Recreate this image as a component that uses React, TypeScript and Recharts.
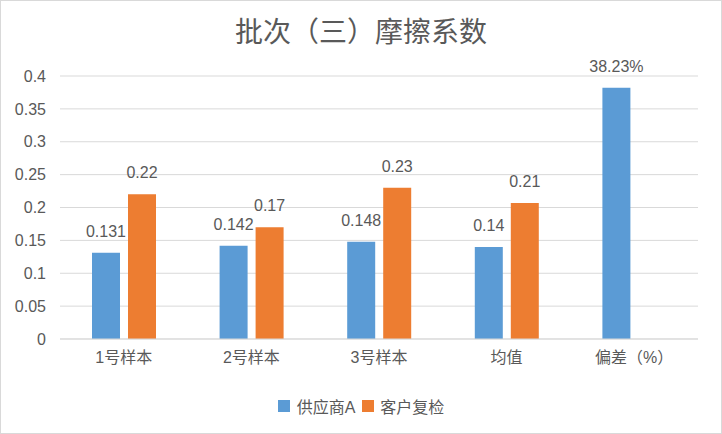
import React from "react";
import { BarChart, Bar, XAxis, YAxis, CartesianGrid, LabelList } from "recharts";

const categories = ["1号样本", "2号样本", "3号样本", "均值", "偏差（%）"];
const supplierValues = [0.131, 0.142, 0.148, 0.14, 0.3823];
const supplierLabels = ["0.131", "0.142", "0.148", "0.14", "38.23%"];
const clientValues: (number | null)[] = [0.22, 0.17, 0.23, 0.207, null];
const clientLabels = ["0.22", "0.17", "0.23", "0.21", ""];
const yTicks = [0, 0.05, 0.1, 0.15, 0.2, 0.25, 0.3, 0.35, 0.4];
const seriesNames = ["供应商A", "客户复检"];
const title = "批次（三）摩擦系数";

const BLUE = "#5B9BD5";
const ORANGE = "#ED7D31";
const TEXT = "#595959";
const GRID = "#D9D9D9";
const FONT = '"Liberation Sans", "Noto Sans CJK SC", sans-serif';

const data = categories.map((c, i) => ({
  name: c,
  supplier: supplierValues[i],
  client: clientValues[i],
  supplierLabel: supplierLabels[i],
  clientLabel: clientLabels[i],
}));

const LegendBox = () => (
  <div
    style={{
      position: "absolute",
      top: 393,
      left: 0,
      width: 720,
      display: "flex",
      justifyContent: "center",
      alignItems: "center",
      fontFamily: FONT,
      fontSize: 16,
      color: TEXT,
    }}
  >
    <span style={{ display: "inline-block", width: 12, height: 12, background: BLUE, marginRight: 7 }} />
    <span style={{ marginRight: 7 }}>{seriesNames[0]}</span>
    <span style={{ display: "inline-block", width: 12, height: 12, background: ORANGE, marginRight: 6 }} />
    <span>{seriesNames[1]}</span>
  </div>
);

export default function App() {
  return (
    <div
      style={{
        position: "fixed",
        left: 0,
        top: 0,
        width: 722,
        height: 434,
        boxSizing: "border-box",
        border: `1px solid ${GRID}`,
        background: "#fff",
      }}
    >
      <div
        style={{
          position: "absolute",
          top: 9,
          left: 0,
          width: 720,
          textAlign: "center",
          fontFamily: FONT,
          fontSize: 28,
          color: TEXT,
        }}
      >
        {title}
      </div>
      <BarChart
        width={720}
        height={432}
        data={data}
        margin={{ top: 75, right: 23, bottom: 64, left: 0 }}
        barSize={28}
        barGap={8}
      >
        <CartesianGrid vertical={false} stroke={GRID} strokeWidth={1} />
        <XAxis
          dataKey="name"
          height={30}
          axisLine={{ stroke: GRID }}
          tickLine={false}
          tick={{ fill: TEXT, fontSize: 16, fontFamily: FONT }}
          tickMargin={7}
          interval={0}
        />
        <YAxis
          width={59}
          domain={[0, 0.4]}
          ticks={yTicks}
          axisLine={false}
          tickLine={false}
          tick={{ fill: TEXT, fontSize: 16, fontFamily: FONT }}
          tickMargin={8}
        />
        <Bar dataKey="supplier" fill={BLUE} isAnimationActive={false}>
          <LabelList dataKey="supplierLabel" position="top" offset={16} fill={TEXT} fontSize={16} fontFamily={FONT} />
        </Bar>
        <Bar dataKey="client" fill={ORANGE} isAnimationActive={false}>
          <LabelList dataKey="clientLabel" position="top" offset={16} fill={TEXT} fontSize={16} fontFamily={FONT} />
        </Bar>
      </BarChart>
      <LegendBox />
    </div>
  );
}
